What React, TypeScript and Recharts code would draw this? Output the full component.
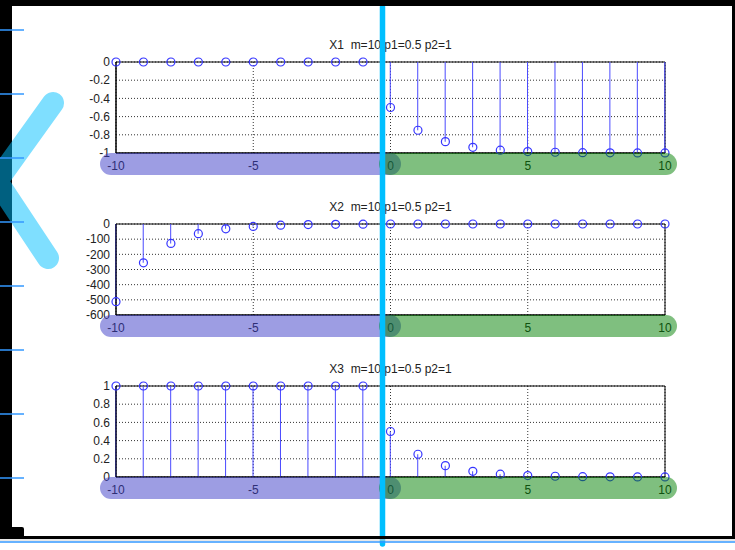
import React from "react";
import {
  ComposedChart,
  Bar,
  Scatter,
  XAxis,
  YAxis,
  CartesianGrid,
  ReferenceArea,
} from "recharts";

// sample index n
const nValues = [-10, -9, -8, -7, -6, -5, -4, -3, -2, -1, 0, 1, 2, 3, 4, 5, 6, 7, 8, 9, 10];

const x1Values = [0, 0, 0, 0, 0, 0, 0, 0, 0, 0, -0.5, -0.75, -0.875, -0.9375, -0.969, -0.984, -0.992, -0.996, -0.998, -0.999, -0.9995];
const x2Values = [-512, -256, -128, -64, -32, -16, -8, -4, -2, -1, 0, 0, 0, 0, 0, 0, 0, 0, 0, 0, 0];
const x3Values = [1, 1, 1, 1, 1, 1, 1, 1, 1, 1, 0.5, 0.25, 0.125, 0.0625, 0.031, 0.016, 0.008, 0.004, 0.002, 0.001, 0.0005];

const xTicks = [-10, -5, 0, 5, 10];
const x1Ticks = [-1, -0.8, -0.6, -0.4, -0.2, 0];
const x2Ticks = [-600, -500, -400, -300, -200, -100, 0];
const x3Ticks = [0, 0.2, 0.4, 0.6, 0.8, 1];

const titles = ["X1  m=10 p1=0.5 p2=1", "X2  m=10 p1=0.5 p2=1", "X3  m=10 p1=0.5 p2=1"];

const FONT = "'Liberation Sans', Arial, sans-serif";
const PLOT_H = 91;
const PAD_TOP = 10;

type StemProps = {
  top: number;
  title: string;
  values: number[];
  yTicks: number[];
};

function StemPlot({ top, title, values, yTicks }: StemProps) {
  const data = nValues.map((n, i) => ({ n, v: values[i] }));
  const yMin = yTicks[0];
  const yMax = yTicks[yTicks.length - 1];
  const tickStyle = { fontSize: 12, fill: "#222", fontFamily: FONT };

  return (
    <>
      <div
        style={{
          position: "absolute",
          left: 116,
          width: 549,
          top: top - 24,
          textAlign: "center",
          fontFamily: FONT,
          fontSize: 12,
          color: "#222",
          whiteSpace: "pre",
          lineHeight: "14px",
        }}
      >
        {title}
      </div>
      <div style={{ position: "absolute", left: 0, top: top - PAD_TOP }}>
        <ComposedChart
          width={735}
          height={PAD_TOP + PLOT_H + 30}
          data={data}
          margin={{ top: PAD_TOP, right: 70, bottom: 10, left: 76 }}
        >
          <CartesianGrid stroke="#333" strokeDasharray="1 2" />
          <XAxis
            dataKey="n"
            type="number"
            domain={[-10, 10]}
            ticks={xTicks}
            interval={0}
            height={20}
            tickLine={false}
            axisLine={{ stroke: "#000" }}
            tick={tickStyle}
          />
          <YAxis
            type="number"
            domain={[yMin, yMax]}
            ticks={yTicks}
            interval={0}
            width={40}
            tickLine={false}
            tickSize={4}
            axisLine={{ stroke: "#000" }}
            tick={tickStyle}
          />
          <ReferenceArea x1={-10} x2={10} y1={yMin} y2={yMax} fill="none" stroke="#000" strokeWidth={1} />
          <Bar dataKey="v" barSize={1} fill="#4a4aff" isAnimationActive={false} />
          <Scatter
            dataKey="v"
            isAnimationActive={false}
            shape={(p: any) => (
              <circle cx={p.cx} cy={p.cy} r={4} fill="none" stroke="#3535ff" strokeWidth={1.2} />
            )}
          />
        </ComposedChart>
      </div>
    </>
  );
}

const plotTops = [62, 224, 386];
const tickMarkYs = [30, 94, 158, 222, 286, 350, 414, 478];

function Overlay() {
  return (
    <svg
      width={735}
      height={550}
      style={{ position: "absolute", left: 0, top: 0, pointerEvents: "none" }}
    >
      {plotTops.map((t) => {
        const cy = t + PLOT_H + 11;
        return (
          <g key={t}>
            <line x1={111} y1={cy} x2={390} y2={cy} stroke="rgba(60,60,200,0.5)" strokeWidth={22} strokeLinecap="round" />
            <line x1={390} y1={cy} x2={666} y2={cy} stroke="rgba(0,128,0,0.5)" strokeWidth={22} strokeLinecap="round" />
          </g>
        );
      })}
      <line x1={382.5} y1={7} x2={382.5} y2={544} stroke="#00bfff" strokeWidth={5.5} strokeLinecap="round" />

      {/* frame */}
      <rect x={0} y={0} width={735} height={6} fill="#000" />
      <rect x={732} y={0} width={3} height={539} fill="#000" />
      <rect x={0} y={0} width={12} height={539} rx={3} fill="#000" />
      <rect x={0} y={527} width={24} height={12} rx={2} fill="#000" />
      <rect x={0} y={536} width={735} height={3} fill="#000" />
      <line x1={0} y1={540} x2={735} y2={540} stroke="#d0d0d0" strokeWidth={1} />
      <line x1={0} y1={542} x2={735} y2={542} stroke="#3399ff" strokeWidth={1.5} />

      <polyline
        points="53,103 -3,181 48,258"
        fill="none"
        stroke="rgba(0,191,255,0.5)"
        strokeWidth={22}
        strokeLinecap="round"
        strokeLinejoin="round"
      />
      {tickMarkYs.map((y) => (
        <line key={y} x1={0} y1={y} x2={24} y2={y} stroke="#3399ff" strokeWidth={1.5} />
      ))}
    </svg>
  );
}

export default function App() {
  return (
    <div
      style={{
        position: "absolute",
        left: 0,
        top: 0,
        width: 735,
        height: 550,
        background: "#fff",
        overflow: "hidden",
      }}
    >
      <StemPlot top={plotTops[0]} title={titles[0]} values={x1Values} yTicks={x1Ticks} />
      <StemPlot top={plotTops[1]} title={titles[1]} values={x2Values} yTicks={x2Ticks} />
      <StemPlot top={plotTops[2]} title={titles[2]} values={x3Values} yTicks={x3Ticks} />
      <Overlay />
    </div>
  );
}
